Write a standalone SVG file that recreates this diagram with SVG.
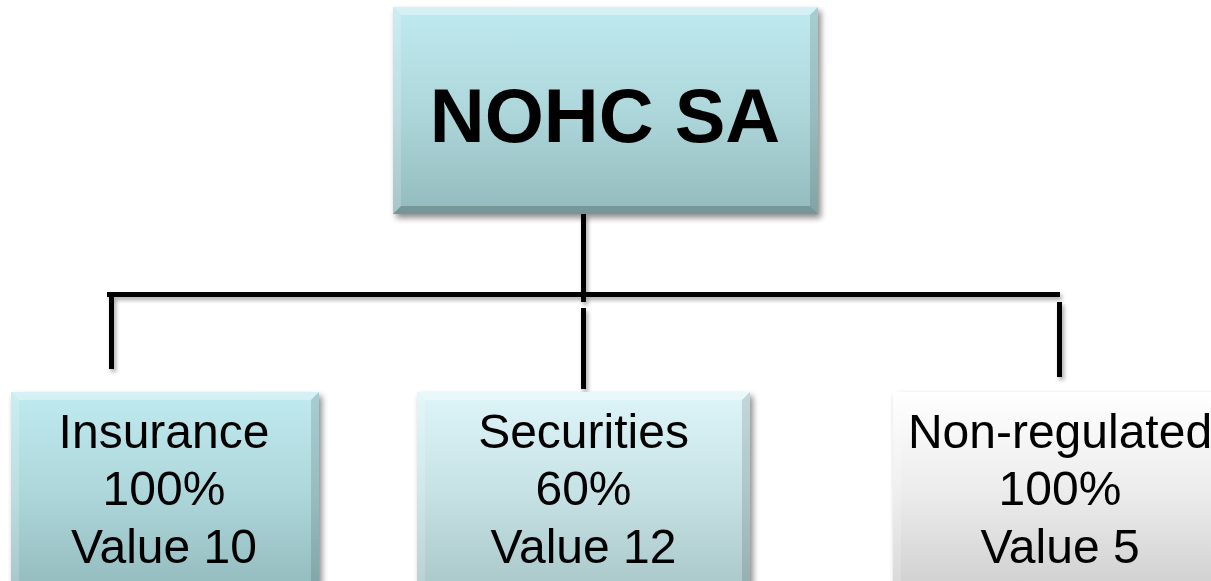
<svg xmlns="http://www.w3.org/2000/svg" width="1211" height="581" viewBox="0 0 1211 581">
  <defs>
    <linearGradient id="gTeal" x1="0" y1="0" x2="0" y2="1">
      <stop offset="0" stop-color="#bfeaef"/>
      <stop offset="0.5" stop-color="#aed7db"/>
      <stop offset="1" stop-color="#93bbbe"/>
    </linearGradient>
    <linearGradient id="gPale" x1="0" y1="0" x2="0" y2="1">
      <stop offset="0" stop-color="#def5f8"/>
      <stop offset="0.5" stop-color="#c6e2e5"/>
      <stop offset="1" stop-color="#a9c6c8"/>
    </linearGradient>
    <linearGradient id="gGray" x1="0" y1="0" x2="0" y2="1">
      <stop offset="0" stop-color="#ffffff"/>
      <stop offset="0.5" stop-color="#ececec"/>
      <stop offset="1" stop-color="#cfcfcf"/>
    </linearGradient>
    <filter id="shadow" x="-10%" y="-10%" width="125%" height="125%">
      <feGaussianBlur in="SourceAlpha" stdDeviation="3"/>
      <feOffset dx="3" dy="4" result="b"/>
      <feComponentTransfer><feFuncA type="linear" slope="0.45"/></feComponentTransfer>
      <feMerge><feMergeNode/><feMergeNode in="SourceGraphic"/></feMerge>
    </filter>
    <filter id="lineShadow" x="-20%" y="-20%" width="140%" height="140%">
      <feGaussianBlur in="SourceAlpha" stdDeviation="2"/>
      <feOffset dx="2" dy="3" result="b"/>
      <feComponentTransfer><feFuncA type="linear" slope="0.35"/></feComponentTransfer>
      <feMerge><feMergeNode/><feMergeNode in="SourceGraphic"/></feMerge>
    </filter>
  </defs>
  <style>
    .conn { stroke: #000; stroke-width: 5; fill: none; }
    .hiT { fill: #ffffff; opacity: 0.35; }
    .hiL { fill: #ffffff; opacity: 0.18; }
    .loR { fill: #000000; opacity: 0.12; }
    .loB { fill: #000000; opacity: 0.2; }
    .big { font-family: "Liberation Sans", Arial, sans-serif; font-weight: bold; font-size: 76px; fill: #000; text-anchor: middle; }
    .lbl { font-family: "Liberation Sans", Arial, sans-serif; font-size: 48px; fill: #000; text-anchor: middle; }
  </style>

  <rect width="1211" height="581" fill="#ffffff"/>

  <!-- connectors -->
  <g id="connectors" filter="url(#lineShadow)">
    <line class="conn" x1="583.5" y1="214" x2="583.5" y2="302"/>
    <line class="conn" x1="107" y1="294.5" x2="1060" y2="294.5"/>
    <line class="conn" x1="111.5" y1="292" x2="111.5" y2="369"/>
    <line class="conn" x1="583.5" y1="308" x2="583.5" y2="389"/>
    <line class="conn" x1="1059.5" y1="302" x2="1059.5" y2="377"/>
  </g>

  <!-- parent node -->
  <g id="node-nohc" filter="url(#shadow)">
    <rect x="393" y="7" width="425" height="207" fill="url(#gTeal)"/>
    <polygon class="hiT" points="393,7 818,7 810,15 401,15"/>
    <polygon class="hiL" points="393,7 401,15 401,206 393,214"/>
    <polygon class="loR" points="818,7 818,214 810,206 810,15"/>
    <polygon class="loB" points="393,214 818,214 810,206 401,206"/>
    <text class="big" x="605" y="142">NOHC SA</text>
  </g>

  <!-- insurance subsidiary -->
  <g id="node-insurance" filter="url(#shadow)">
    <rect x="11" y="392" width="308" height="200" fill="url(#gTeal)"/>
    <polygon class="hiT" points="11,392 319,392 311,400 19,400"/>
    <polygon class="hiL" points="11,392 19,400 19,592 11,592"/>
    <polygon class="loR" points="319,392 319,592 311,592 311,400"/>
    <text class="lbl" x="164" y="448">Insurance</text>
    <text class="lbl" x="164" y="505">100%</text>
    <text class="lbl" x="164" y="563">Value 10</text>
  </g>

  <!-- securities subsidiary -->
  <g id="node-securities" filter="url(#shadow)">
    <rect x="417" y="392" width="333" height="200" fill="url(#gPale)"/>
    <polygon class="hiT" points="417,392 750,392 742,400 425,400"/>
    <polygon class="hiL" points="417,392 425,400 425,592 417,592"/>
    <polygon class="loR" points="750,392 750,592 742,592 742,400"/>
    <text class="lbl" x="583.5" y="448">Securities</text>
    <text class="lbl" x="583.5" y="505">60%</text>
    <text class="lbl" x="583.5" y="563">Value 12</text>
  </g>

  <!-- non-regulated subsidiary -->
  <g id="node-nonregulated" filter="url(#shadow)">
    <rect x="893" y="392" width="334" height="200" fill="url(#gGray)"/>
    <polygon class="hiT" points="893,392 1227,392 1219,400 901,400"/>
    <polygon class="hiL" points="893,392 901,400 901,592 893,592"/>
    <text class="lbl" x="1060" y="448">Non-regulated</text>
    <text class="lbl" x="1060" y="505">100%</text>
    <text class="lbl" x="1060" y="563">Value 5</text>
  </g>
</svg>
